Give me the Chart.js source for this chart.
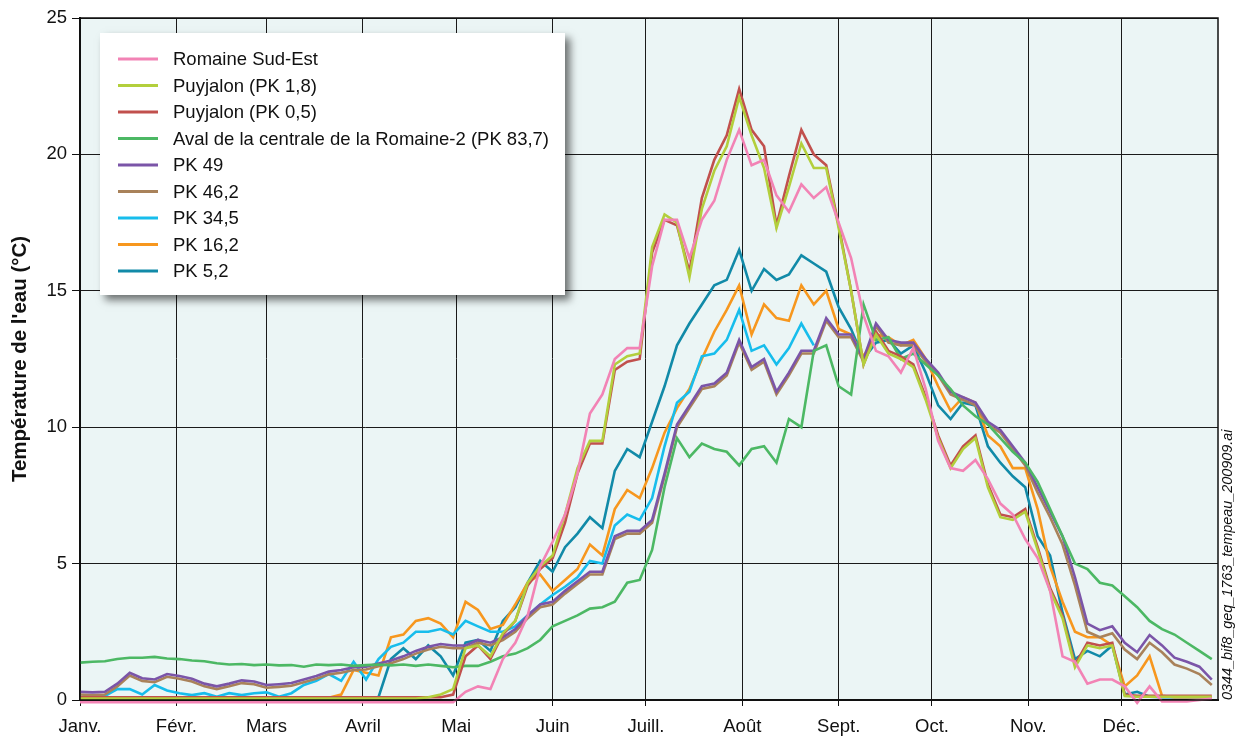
<!DOCTYPE html>
<html>
<head>
<meta charset="utf-8">
<title>Température de l'eau</title>
<script src="https://cdn.jsdelivr.net/npm/chart.js@4.4.1/dist/chart.umd.min.js"></script>
<style>
  html, body { margin: 0; padding: 0; background: #fff; }
  #wrap { position: relative; width: 1236px; height: 738px; }
</style>
</head>
<body>
<div id="wrap"><canvas id="chart" width="1236" height="738"></canvas></div>
<script>
// --- Data (one sample every 4 days, day 0 = 1 Jan) ---
const days = Array.from({ length: 92 }, (_, i) => i * 4);

const monthStarts = [0, 31, 60, 91, 121, 152, 182, 213, 244, 274, 305, 335];
const monthLabels = ["Janv.", "Févr.", "Mars", "Avril", "Mai", "Juin", "Juill.", "Août", "Sept.", "Oct.", "Nov.", "Déc."];
const yTicks = [0, 5, 10, 15, 20, 25];

const seriesNames = [
  "Romaine Sud-Est",
  "Puyjalon (PK 1,8)",
  "Puyjalon (PK 0,5)",
  "Aval de la centrale de la Romaine-2 (PK 83,7)",
  "PK 49",
  "PK 46,2",
  "PK 34,5",
  "PK 16,2",
  "PK 5,2"
];
const seriesColors = ["#f283b5", "#b3cf3c", "#c1504d", "#4cb864", "#7b55a8", "#a9825a", "#17bdec", "#f7971e", "#118aa8"];

const romaineSudEst = [
  -0.08, -0.08, -0.08, -0.08, -0.08, -0.08, -0.08, -0.08, -0.08, -0.08,
  -0.08, -0.08, -0.08, -0.08, -0.08, -0.08, -0.08, -0.08, -0.08, -0.08,
  -0.08, -0.08, -0.08, -0.08, -0.08, -0.08, -0.08, -0.08, -0.08, -0.08,
  -0.08, 0.3, 0.5, 0.4, 1.5, 2.1, 3.1, 4.9, 5.8, 6.8,
  8.3, 10.5, 11.2, 12.5, 12.9, 12.9, 15.9, 17.6, 17.6, 16.2,
  17.6, 18.3, 19.8, 20.9, 19.6, 19.8, 18.5, 17.9, 18.9, 18.4,
  18.8, 17.5, 16.2, 14.1, 12.8, 12.6, 12.0, 12.9, 11.4, 9.5,
  8.5, 8.4, 8.8, 8.1, 7.2, 6.8, 5.9, 5.2, 4.0, 1.6,
  1.4, 0.6, 0.75, 0.75, 0.5, -0.1, 0.5, -0.05, -0.05, -0.05,
  0.0, 0.05
];

const puyjalon18 = [
  0.05, 0.05, 0.05, 0.05, 0.05, 0.05, 0.05, 0.05, 0.05, 0.05,
  0.05, 0.05, 0.05, 0.05, 0.05, 0.05, 0.05, 0.05, 0.05, 0.05,
  0.05, 0.05, 0.05, 0.05, 0.05, 0.05, 0.05,
  0.05, 0.1, 0.2, 0.4, 1.9, 2.0, 1.6, 2.45, 2.9, 4.3,
  4.9, 5.3, 6.8, 8.5, 9.5, 9.5, 12.3, 12.6, 12.7, 16.6,
  17.8, 17.5, 15.5, 18.0, 19.4, 20.3, 22.1, 20.7, 19.5, 17.3,
  18.8, 20.4, 19.5, 19.5, 17.3, 15.0, 12.3, 13.4, 12.7, 12.5,
  12.2, 11.0, 9.6, 8.5, 9.2, 9.6, 7.8, 6.7, 6.6, 6.9,
  5.5, 4.0, 3.0, 1.2, 2.0, 1.9, 2.0, 0.15,
  0.12, 0.12, 0.12, 0.12, 0.12, 0.12, 0.12
];

const puyjalon05 = [
  0.1, 0.1, 0.1, 0.1, 0.1, 0.1, 0.1, 0.1, 0.1, 0.1,
  0.1, 0.1, 0.1, 0.1, 0.1, 0.1, 0.1, 0.1, 0.1, 0.1,
  0.1, 0.1, 0.1, 0.1, 0.1, 0.1, 0.1, 0.1, 0.1,
  0.1, 0.2, 1.6, 2.0, 1.5, 2.4, 2.9, 4.2, 4.8, 5.2,
  6.5, 8.3, 9.4, 9.4, 12.1, 12.4, 12.5, 16.4, 17.6, 17.4,
  15.7, 18.4, 19.8, 20.7, 22.4, 20.9, 20.3, 17.4, 19.2, 20.9,
  20.0, 19.6, 17.4, 15.0, 12.3,
  13.5, 12.8, 12.6, 12.3, 11.1, 9.7, 8.6, 9.3, 9.7, 7.9,
  6.8, 6.7, 7.0, 5.6, 4.1, 3.1, 1.3, 2.1, 2.0, 2.1,
  0.2,
  0.15, 0.15, 0.15, 0.15, 0.15, 0.15, 0.15
];

const avalRomaine2 = [
  1.37, 1.4, 1.42, 1.5, 1.55, 1.55, 1.58, 1.52, 1.5, 1.45,
  1.42, 1.35, 1.3, 1.32, 1.28, 1.3, 1.27, 1.28, 1.22, 1.3,
  1.28, 1.3, 1.25, 1.28, 1.3, 1.27, 1.3, 1.25, 1.3, 1.25,
  1.2, 1.25, 1.25, 1.4, 1.6, 1.7, 1.9, 2.2, 2.7, 2.9,
  3.1, 3.35, 3.4, 3.6, 4.3, 4.4, 5.5, 7.8, 9.6, 8.9,
  9.4, 9.2, 9.1, 8.6, 9.2, 9.3, 8.7, 10.3, 10.0, 12.8,
  13.0, 11.5, 11.2, 14.5, 13.2, 13.3, 12.5, 12.7, 12.3, 11.9,
  11.4, 10.8, 10.4, 10.1, 9.6, 9.1, 8.7, 8.0, 7.0, 6.0,
  5.0, 4.8, 4.3, 4.2, 3.8, 3.4, 2.9, 2.6, 2.4, 2.1,
  1.8, 1.5
];

const pk49 = [
  0.3, 0.28, 0.3, 0.6, 1.0, 0.8, 0.75, 0.95, 0.88, 0.78,
  0.6, 0.5, 0.6, 0.72, 0.68, 0.55, 0.58, 0.62, 0.75, 0.88,
  1.04, 1.1, 1.2, 1.22, 1.34, 1.45, 1.6, 1.8, 1.95, 2.05,
  2.0, 2.0, 2.2, 2.1, 2.3, 2.6, 3.1, 3.5, 3.6, 4.0,
  4.35, 4.7, 4.7, 6.0, 6.2, 6.2, 6.6, 8.3, 10.1, 10.8,
  11.5, 11.6, 12.0, 13.2, 12.2, 12.5, 11.3, 12.0, 12.8, 12.8,
  14.0, 13.4, 13.4, 12.5, 13.8, 13.2, 13.1, 13.1, 12.5, 12.0,
  11.3, 11.1, 10.9, 10.2, 9.9, 9.3, 8.7, 7.8, 6.9, 6.0,
  4.5, 2.8, 2.56, 2.7, 2.1, 1.75, 2.38, 2.0, 1.55, 1.4,
  1.22, 0.75
];

const pk462 = [
  0.2, 0.18, 0.2, 0.5, 0.9, 0.7, 0.65, 0.85, 0.78, 0.68,
  0.5, 0.4, 0.5, 0.62, 0.58, 0.45, 0.48, 0.52, 0.65, 0.78,
  0.94, 1.0, 1.1, 1.12, 1.24, 1.35, 1.5, 1.7, 1.85, 1.95,
  1.9, 1.9, 2.1, 2.0, 2.2, 2.5, 3.0, 3.4, 3.5, 3.9,
  4.25, 4.6, 4.6, 5.9, 6.1, 6.1, 6.5, 8.2, 10.0, 10.7,
  11.4, 11.5, 11.9, 13.1, 12.1, 12.4, 11.2, 11.9, 12.7, 12.7,
  13.9, 13.3, 13.3, 12.4, 13.7, 13.1, 13.0, 13.0, 12.4, 11.9,
  11.2, 11.0, 10.8, 10.1, 9.8, 9.2, 8.6, 7.6, 6.7, 5.7,
  4.2, 2.5, 2.3, 2.45, 1.85, 1.5, 2.1, 1.75, 1.3, 1.15,
  0.95, 0.55
];

const pk345 = [
  0.12, 0.12, 0.15, 0.4, 0.4, 0.2, 0.55, 0.35, 0.25, 0.18,
  0.25, 0.12, 0.25, 0.18, 0.25, 0.28, 0.12, 0.25, 0.55, 0.7,
  0.95, 0.7, 1.4, 0.75, 1.5, 1.95, 2.1, 2.5, 2.5, 2.6,
  2.4, 2.9, 2.7, 2.5, 2.5, 2.7, 3.1, 3.5, 3.85, 4.15,
  4.5, 5.1, 5.0, 6.4, 6.8, 6.6, 7.4, 9.3, 10.9, 11.3,
  12.6, 12.7, 13.2, 14.3, 12.8, 13.0, 12.3, 12.9, 13.8, 13.0,
  null, null, null, null, null, null, null, null, null, null,
  null, null, null, null, null, null, null, null, null, null,
  null, null, null, null, null, null, null, null, null, null,
  null, null
];

const pk162 = [
  0.08, 0.08, 0.08, 0.08, 0.08, 0.08, 0.08, 0.08, 0.08, 0.08,
  0.08, 0.08, 0.08, 0.08, 0.08, 0.08, 0.08, 0.08, 0.08, 0.08,
  0.08,
  0.2, 1.1, 1.0, 0.9, 2.3, 2.4, 2.9, 3.0, 2.8, 2.3,
  3.6, 3.3, 2.6, 2.75, 3.5, 4.3, 4.6, 4.0, 4.4, 4.8,
  5.7, 5.3, 7.0, 7.7, 7.4, 8.5, 9.8, 10.7, 11.4, 12.5,
  13.5, 14.3, 15.2, 13.4, 14.5, 14.0, 13.9, 15.2, 14.5, 15.0,
  13.6, 13.4, 12.6, 13.4, 13.3, 13.0, 13.2, 12.5, 11.5, 10.6,
  11.1, 10.9, 9.7, 9.3, 8.5, 8.5, 7.0, 4.9, 3.6, 2.5,
  2.3, 2.3, 2.0, 0.5, 0.9, 1.6, 0.15,
  0.1, 0.1, 0.1, 0.1
];

const pk52 = [
  null, null, null, null, null, null, null, null, null, null,
  null, null, null, null, null, null, null, null, null, null,
  null, null,
  0.1, 0.1, 0.1, 1.5, 1.9, 1.5, 2.0, 1.6, 0.9, 2.1,
  2.2, 1.8, 2.9, 3.4, 4.3, 5.1, 4.7, 5.6, 6.1, 6.7,
  6.3, 8.4, 9.2, 8.9, 10.2, 11.5, 13.0, 13.8, 14.5, 15.2,
  15.4, 16.5, 15.0, 15.8, 15.4, 15.6, 16.3, 16.0, 15.7, 14.4,
  13.6, 12.5, 13.1, 13.2, 12.7, 13.0, 12.0, 10.8, 10.3, 10.9,
  10.8, 9.3, 8.7, 8.2, 7.8, 6.0, 5.3, 3.2, 1.5, 1.8,
  1.6, 2.0, 0.2, 0.3, 0.12,
  0.1, 0.1, 0.1, 0.1, 0.1
];

const seriesValues = [romaineSudEst, puyjalon18, puyjalon05, avalRomaine2, pk49, pk462, pk345, pk162, pk52];

const FONT = "'Liberation Sans', Arial, sans-serif";
const PLOT_BG = "#ebf5f5";

// --- Plugins ---
const plotBackground = {
  id: "plotBackground",
  beforeDraw(chart) {
    const { ctx, chartArea: a } = chart;
    ctx.save();
    ctx.fillStyle = "#fff";
    ctx.fillRect(0, 0, chart.width, chart.height);
    ctx.fillStyle = PLOT_BG;
    ctx.fillRect(a.left, a.top, a.right - a.left, a.bottom - a.top);
    ctx.restore();
  }
};

const frameAndLegend = {
  id: "frameAndLegend",
  afterDraw(chart) {
    const { ctx, chartArea: a } = chart;
    ctx.save();
    ctx.strokeStyle = "#111";
    ctx.lineWidth = 1.5;
    ctx.strokeRect(a.left, a.top, a.right - a.left, a.bottom - a.top);

    // legend box
    const bx = 100, by = 33, bw = 465, bh = 262;
    ctx.save();
    ctx.shadowColor = "rgba(0,0,0,0.55)";
    ctx.shadowBlur = 8;
    ctx.shadowOffsetX = 5;
    ctx.shadowOffsetY = 5;
    ctx.fillStyle = "#fff";
    ctx.fillRect(bx, by, bw, bh);
    ctx.restore();

    ctx.font = "18.5px " + FONT;
    ctx.textBaseline = "middle";
    ctx.textAlign = "left";
    chart.data.datasets.forEach((ds, i) => {
      const y = by + 26 + i * 26.5;
      ctx.strokeStyle = ds.borderColor;
      ctx.lineWidth = 3;
      ctx.beginPath();
      ctx.moveTo(bx + 18, y);
      ctx.lineTo(bx + 58, y);
      ctx.stroke();
      ctx.fillStyle = "#111";
      ctx.fillText(ds.label, bx + 73, y + 1);
    });

    // file tag on the right edge
    ctx.save();
    ctx.translate(1232, a.bottom);
    ctx.rotate(-Math.PI / 2);
    ctx.font = "italic 14.4px " + FONT;
    ctx.fillStyle = "#111";
    ctx.textBaseline = "alphabetic";
    ctx.textAlign = "left";
    ctx.fillText("0344_bif8_geq_1763_tempeau_200909.ai", 0, 0);
    ctx.restore();

    ctx.restore();
  }
};

// --- Chart ---
Chart.defaults.font.family = FONT;
Chart.defaults.font.size = 18.5;
Chart.defaults.color = "#111";

new Chart(document.getElementById("chart"), {
  type: "line",
  data: {
    datasets: seriesNames.map((name, i) => ({
      label: name,
      data: seriesValues[i].map((v, k) => ({ x: days[k], y: v })),
      borderColor: seriesColors[i],
      backgroundColor: seriesColors[i],
      borderWidth: 2.6,
      pointRadius: 0,
      tension: 0,
      spanGaps: false,
      clip: { left: 0, top: 0, right: 0, bottom: 5 }
    }))
  },
  options: {
    responsive: false,
    animation: false,
    devicePixelRatio: 1,
    layout: { padding: { top: 18, right: 18, left: 0, bottom: 0 } },
    plugins: { legend: { display: false }, tooltip: { enabled: false } },
    scales: {
      x: {
        type: "linear",
        min: 0,
        max: 366,
        afterBuildTicks(scale) { scale.ticks = monthStarts.map(v => ({ value: v })); },
        afterFit(scale) { scale.height = 38; },
        ticks: {
          callback: (v) => monthLabels[monthStarts.indexOf(v)],
          maxRotation: 0,
          autoSkip: false,
          padding: 10,
          color: "#111"
        },
        grid: { color: "#1a1a1a", lineWidth: 1, tickLength: 6, tickColor: "#111" },
        border: { color: "#111", width: 2 }
      },
      y: {
        min: 0,
        max: 25,
        afterBuildTicks(scale) { scale.ticks = yTicks.map(v => ({ value: v })); },
        afterFit(scale) { scale.width = 80; },
        ticks: { padding: 5, color: "#111" },
        grid: { color: "#1a1a1a", lineWidth: 1, tickLength: 8, tickColor: "#111" },
        border: { color: "#111", width: 2 },
        title: {
          display: true,
          text: "Température de l'eau (°C)",
          font: { size: 20.5, weight: "bold" },
          color: "#111",
          padding: { top: 8, bottom: 0 }
        }
      }
    }
  },
  plugins: [plotBackground, frameAndLegend]
});
</script>
</body>
</html>
